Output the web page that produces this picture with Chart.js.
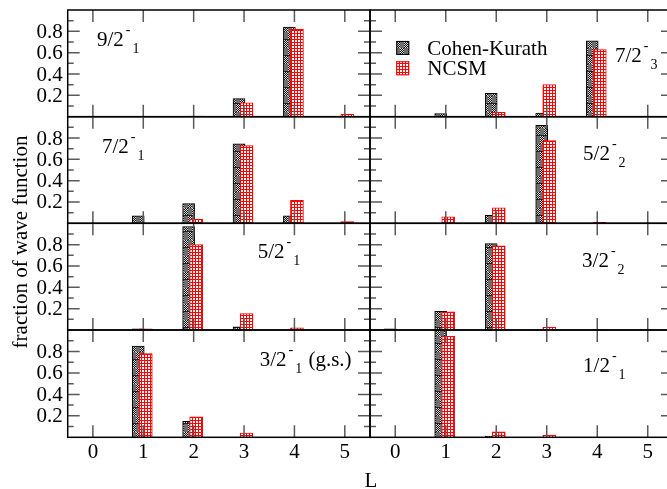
<!DOCTYPE html>
<html lang="en">
<head>
<meta charset="UTF-8" />
<title>fraction of wave function vs L</title>
<script src="https://cdn.jsdelivr.net/npm/chart.js@4.4.0/dist/chart.umd.min.js"></script>
<style>
  html, body { margin: 0; padding: 0; overflow: hidden; background: #fff; }
  #wrap { position: relative; width: 667px; height: 489px; overflow: hidden; }
  #wrap canvas { position: absolute; left: 0; top: 0; }
</style>
</head>
<body>
<div id="wrap"></div>
<script>
// orbital angular momentum L on the x axis
const L = [0, 1, 2, 3, 4, 5];
const yTicks = [0.2, 0.4, 0.6, 0.8];
const yMinor = [0.1, 0.3, 0.5, 0.7, 0.9];
const xTickLabels = ['0', '1', '2', '3', '4', '5'];

// fraction of wave function per L  (Cohen-Kurath / NCSM)
const ck_9_2_1   = [0,    0,    0,     0.17,  0.84,  0];
const ncsm_9_2_1 = [0,    0,    0.005, 0.13,  0.82,  0.025];
const ck_7_2_3   = [0,    0.03, 0.22,  0.035, 0.71,  0];
const ncsm_7_2_3 = [0,    0,    0.04,  0.30,  0.63,  0];
const ck_7_2_1   = [0,    0.07, 0.185, 0.745, 0.07,  0];
const ncsm_7_2_1 = [0,    0,    0.04,  0.73,  0.215, 0.015];
const ck_5_2_2   = [0,    0,    0.075, 0.92,  0,     0];
const ncsm_5_2_2 = [0,    0.06, 0.145, 0.775, 0.01,  0];
const ck_5_2_1   = [0,    0.01, 0.97,  0.03,  0,     0];
const ncsm_5_2_1 = [0,    0.01, 0.80,  0.155, 0.02,  0];
const ck_3_2_2   = [0.01, 0.175, 0.81, 0,     0,     0];
const ncsm_3_2_2 = [0,    0.17, 0.79,  0.025, 0.005, 0];
const ck_3_2_1   = [0,    0.85, 0.15,  0,     0,     0];
const ncsm_3_2_1 = [0,    0.78, 0.19,  0.04,  0,     0];
const ck_1_2_1   = [0,    1.0,  0.01,  0,     0,     0];
const ncsm_1_2_1 = [0,    0.94, 0.05,  0.02,  0,     0];

const panels = [
  { j: '9/2', sup: '-', sub: '1', tail: '',        ck: ck_9_2_1, ncsm: ncsm_9_2_1, col: 0, row: 0, lx: 0.08, ly: 0.66 },
  { j: '7/2', sup: '-', sub: '3', tail: '',        ck: ck_7_2_3, ncsm: ncsm_7_2_3, col: 1, row: 0, lx: 4.35, ly: 0.515, legend: true },
  { j: '7/2', sup: '-', sub: '1', tail: '',        ck: ck_7_2_1, ncsm: ncsm_7_2_1, col: 0, row: 1, lx: 0.18, ly: 0.66 },
  { j: '5/2', sup: '-', sub: '2', tail: '',        ck: ck_5_2_2, ncsm: ncsm_5_2_2, col: 1, row: 1, lx: 3.72, ly: 0.59 },
  { j: '5/2', sup: '-', sub: '1', tail: '',        ck: ck_5_2_1, ncsm: ncsm_5_2_1, col: 0, row: 2, lx: 3.27, ly: 0.675 },
  { j: '3/2', sup: '-', sub: '2', tail: '',        ck: ck_3_2_2, ncsm: ncsm_3_2_2, col: 1, row: 2, lx: 3.70, ly: 0.59 },
  { j: '3/2', sup: '-', sub: '1', tail: ' (g.s.)', ck: ck_3_2_1, ncsm: ncsm_3_2_1, col: 0, row: 3, lx: 3.31, ly: 0.66 },
  { j: '1/2', sup: '-', sub: '1', tail: '',        ck: ck_1_2_1, ncsm: ncsm_1_2_1, col: 1, row: 3, lx: 3.72, ly: 0.61 }
];

// page layout of the panel grid
const W = 680, H = 489;
const colLeft = [67.7, 370], colRight = [370, 673];
const rowTop = [10, 116.7, 223.3, 330], rowBottom = [116.7, 223.3, 330, 437.3];
const FONT = '"Liberation Serif", "DejaVu Serif", serif';

function ckPattern() {
  const c = document.createElement('canvas');
  c.width = 8; c.height = 16;
  const g = c.getContext('2d');
  g.fillStyle = '#6e6e6e';
  g.fillRect(0, 0, 8, 16);
  for (let y = 0; y < 16; y++) {
    for (let x = 0; x < 8; x++) {
      const checker = y < 8 ? x < 4 : x >= 4;
      if (checker) {
        g.fillStyle = (x + y) % 2 ? '#111' : '#d8d8d8';
        g.fillRect(x, y, 1, 1);
      }
    }
  }
  g.fillStyle = '#222';
  g.fillRect(0, 7, 8, 1);
  return g.createPattern(c, 'repeat');
}

function ncsmPattern() {
  const c = document.createElement('canvas');
  c.width = 3; c.height = 3;
  const g = c.getContext('2d');
  g.fillStyle = '#fff';
  g.fillRect(0, 0, 3, 3);
  g.fillStyle = '#ff0000';
  g.fillRect(0, 0, 3, 1);
  g.fillRect(0, 0, 1, 3);
  return g.createPattern(c, 'repeat');
}

const ckFill = ckPattern();
const ncsmFill = ncsmPattern();

function drawStateLabel(ctx, x, y, p) {
  ctx.fillStyle = '#000';
  ctx.textAlign = 'left';
  ctx.textBaseline = 'alphabetic';
  ctx.font = '21px ' + FONT;
  ctx.fillText(p.j, x, y);
  let cx = x + ctx.measureText(p.j).width + 2;
  ctx.font = '14px ' + FONT;
  ctx.fillText(p.sup, cx, y - 12);
  cx += ctx.measureText(p.sup).width + 2;
  ctx.fillText(p.sub, cx, y + 7);
  cx += ctx.measureText(p.sub).width;
  if (p.tail) {
    ctx.font = '21px ' + FONT;
    ctx.fillText(p.tail, cx + 1, y);
  }
}

const framePlugin = {
  id: 'frame',
  afterDatasetsDraw(chart) {
    const p = chart.options.plugins.frame.panel;
    const ctx = chart.ctx;
    const a = chart.chartArea;
    const xs = chart.scales.x, ys = chart.scales.y;
    ctx.save();

    // ticks, inward on all four sides
    ctx.strokeStyle = '#5a5a5a';
    ctx.lineWidth = 1.5;
    ctx.beginPath();
    L.forEach(v => {
      const px = xs.getPixelForValue(v);
      ctx.moveTo(px, a.bottom); ctx.lineTo(px, a.bottom - 12);
      ctx.moveTo(px, a.top); ctx.lineTo(px, a.top + 12);
    });
    yTicks.forEach(v => {
      const py = ys.getPixelForValue(v);
      ctx.moveTo(a.left, py); ctx.lineTo(a.left + 12, py);
      ctx.moveTo(a.right, py); ctx.lineTo(a.right - 12, py);
    });
    yMinor.forEach(v => {
      const py = ys.getPixelForValue(v);
      ctx.moveTo(a.left, py); ctx.lineTo(a.left + 6, py);
      ctx.moveTo(a.right, py); ctx.lineTo(a.right - 6, py);
    });
    ctx.stroke();

    // frame
    ctx.strokeStyle = '#000';
    ctx.lineWidth = 1.5;
    ctx.strokeRect(a.left, a.top, a.right - a.left, a.bottom - a.top);

    // tick labels
    ctx.fillStyle = '#000';
    ctx.font = '21px ' + FONT;
    if (p.col === 0) {
      ctx.textAlign = 'right';
      ctx.textBaseline = 'middle';
      yTicks.forEach(v => ctx.fillText(v.toFixed(1), a.left - 5, ys.getPixelForValue(v) + 1));
    }
    if (p.row === 3) {
      ctx.textAlign = 'center';
      ctx.textBaseline = 'alphabetic';
      L.forEach((v, i) => ctx.fillText(xTickLabels[i], xs.getPixelForValue(v), a.bottom + 21));
    }

    drawStateLabel(ctx, xs.getPixelForValue(p.lx), ys.getPixelForValue(p.ly), p);

    if (p.legend) {
      const bx = xs.getPixelForValue(0.02);
      const entries = [['Cohen-Kurath', ckFill, '#000', 0.71], ['NCSM', ncsmFill, '#ff0000', 0.52]];
      entries.forEach(([text, fill, stroke, yv]) => {
        const by = ys.getPixelForValue(yv);
        ctx.fillStyle = fill;
        ctx.fillRect(bx, by, 13, 14);
        ctx.strokeStyle = stroke;
        ctx.lineWidth = 1;
        ctx.strokeRect(bx + 0.5, by + 0.5, 12, 13);
        ctx.fillStyle = '#000';
        ctx.textAlign = 'left';
        ctx.textBaseline = 'alphabetic';
        ctx.font = '21px ' + FONT;
        ctx.fillText(text, bx + 31, by + 14);
      });
    }

    if (p.col === 0 && p.row === 0) {
      // axis titles
      ctx.fillStyle = '#000';
      ctx.font = '21px ' + FONT;
      ctx.textAlign = 'center';
      ctx.textBaseline = 'alphabetic';
      ctx.fillText('L', 371, 487);
      ctx.save();
      ctx.translate(27, 242);
      ctx.rotate(-Math.PI / 2);
      ctx.fillText('fraction of wave function', 0, 0);
      ctx.restore();
    }
    ctx.restore();
  }
};

function toPoints(values, shift) {
  return L.map((l, i) => ({ x: l + shift, y: values[i] })).filter(pt => pt.y > 0);
}

const wrap = document.getElementById('wrap');
panels.forEach(p => {
  const canvas = document.createElement('canvas');
  canvas.width = W;
  canvas.height = H;
  canvas.style.width = W + 'px';
  canvas.style.height = H + 'px';
  wrap.appendChild(canvas);

  new Chart(canvas.getContext('2d'), {
    type: 'bar',
    data: {
      datasets: [
        {
          label: 'NCSM',
          data: toPoints(p.ncsm, 0.05),
          backgroundColor: ncsmFill,
          borderColor: '#ff0000',
          borderWidth: 1,
          barThickness: 13,
          grouped: false,
          order: 0
        },
        {
          label: 'Cohen-Kurath',
          data: toPoints(p.ck, -0.1),
          backgroundColor: ckFill,
          borderColor: '#000',
          borderWidth: 1,
          barThickness: 12,
          grouped: false,
          order: 1
        }
      ]
    },
    options: {
      responsive: false,
      animation: false,
      events: [],
      layout: {
        padding: {
          left: colLeft[p.col],
          right: W - colRight[p.col],
          top: rowTop[p.row],
          bottom: H - rowBottom[p.row]
        }
      },
      scales: {
        x: { type: 'linear', min: -0.5, max: 5.5, offset: false, display: false },
        y: { type: 'linear', min: 0, max: 1, display: false }
      },
      plugins: {
        legend: { display: false },
        tooltip: { enabled: false },
        frame: { panel: p }
      }
    },
    plugins: [framePlugin]
  });
});
</script>
</body>
</html>
